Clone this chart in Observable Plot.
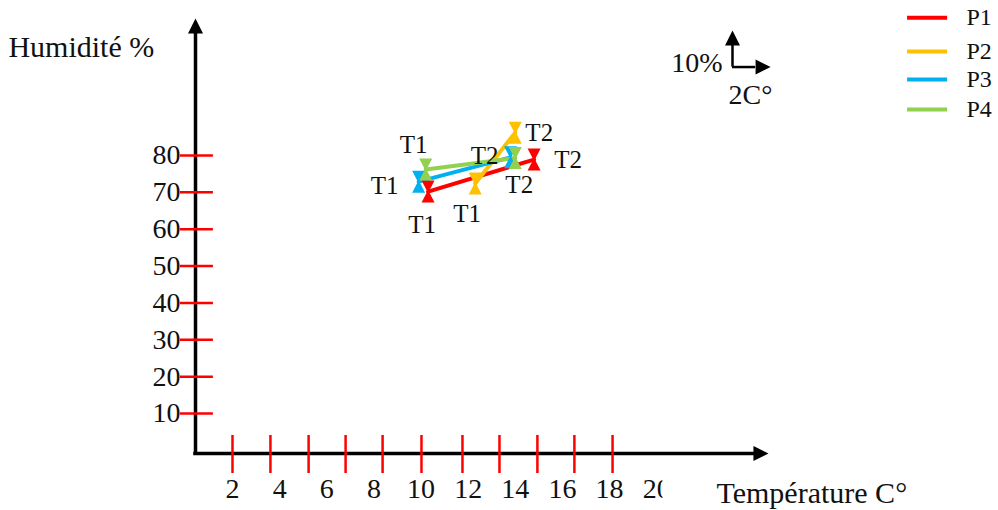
<!DOCTYPE html>
<html><head><meta charset="utf-8">
<script src="https://cdn.jsdelivr.net/npm/d3@7"></script>
<script src="https://cdn.jsdelivr.net/npm/@observablehq/plot@0.6"></script>
<style>body{margin:0;background:#fff}svg{display:block}</style>
</head><body><div id="chart"></div>
<script>
// ---- data ----
const series = ["P1", "P2", "P3", "P4"];
const seriesColors = ["#FF0000", "#FFC000", "#00B0F0", "#92D050"];
const stages = ["T1", "T2"];
const temperatureT1 = [10.3, 12.3, 9.9, 10.2];   // °C
const temperatureT2 = [14.8, 14.0, 13.8, 14.0];
const humidityT1 = [70.2, 72.4, 72.9, 76.2];     // %
const humidityT2 = [78.9, 86.2, 79.5, 79.3];
const xTickLabels = [2, 4, 6, 8, 10, 12, 14, 16, 18, 20];
const yTickLabels = [10, 20, 30, 40, 50, 60, 70, 80];
const xTickMarks = [2, 3.61, 5.23, 6.80, 8.37, 10.02, 11.76, 13.33, 14.94, 16.51, 18.13];
const xTitle = "Température C°";
const yTitle = "Humidité %";
const scaleNoteY = "10%";
const scaleNoteX = "2C°";

// ---- layout / style (not data) ----
const FONT = "Liberation Serif, Times New Roman, serif";
const origin = {x: 0.43, y: -0.85};
const xAxisEnd = 24.11, yAxisEnd = 113.1;
const labelOffsets = {
  "P1-T1": [-6, 33], "P1-T2": [34, 0],
  "P2-T1": [-8, 30], "P2-T2": [24, 0],
  "P3-T1": [-34, 4], "P3-T2": [-26, -1],
  "P4-T1": [-12, -25], "P4-T2": [4, 27]
};

const points = [];
series.forEach((s, i) => {
  points.push({series: s, stage: stages[0], t: temperatureT1[i], h: humidityT1[i]});
  points.push({series: s, stage: stages[1], t: temperatureT2[i], h: humidityT2[i]});
});

const hourglass = {
  draw(ctx) {
    const w = 6.5, h = 11;
    ctx.moveTo(-w, -h); ctx.lineTo(w, -h); ctx.lineTo(0.8, 0); ctx.lineTo(-0.8, 0); ctx.closePath();
    ctx.moveTo(-0.8, 0); ctx.lineTo(0.8, 0); ctx.lineTo(w, h); ctx.lineTo(-w, h); ctx.closePath();
  }
};
const arrowHead = {
  draw(ctx) { ctx.moveTo(0, -15); ctx.lineTo(7.5, 0); ctx.lineTo(-7.5, 0); ctx.closePath(); }
};

const legendY = [117.4, 108.2, 100.6, 92.5];
const legend = series.map((s, i) => ({series: s, y: legendY[i]}));

const labelMarks = points.map(p => {
  const [dx, dy] = labelOffsets[p.series + "-" + p.stage];
  return Plot.text([p], {x: "t", y: "h", text: "stage", dx, dy, fontSize: 25, fontFamily: FONT, fill: "#111"});
});

const chart = Plot.plot({
  width: 998, height: 510,
  margin: 0,
  x: {domain: [2, 18], range: [232, 609], axis: null},
  y: {domain: [10, 80], range: [413, 155], axis: null},
  color: {domain: series, range: seriesColors},
  style: {fontFamily: FONT, background: "#fff"},
  marks: [
    // axes
    Plot.ruleY([origin.y], {x1: origin.x, x2: xAxisEnd, stroke: "#000", strokeWidth: 3.5, strokeLinecap: "square"}),
    Plot.ruleX([origin.x], {y1: origin.y, y2: yAxisEnd, stroke: "#000", strokeWidth: 3.5, strokeLinecap: "square"}),
    Plot.dot([0], {x: origin.x, y: yAxisEnd, symbol: arrowHead, fill: "#000", stroke: "none"}),
    Plot.dot([0], {x: xAxisEnd, y: origin.y, symbol: arrowHead, rotate: 90, fill: "#000", stroke: "none"}),
    // red tick marks
    Plot.ruleX(xTickMarks, {y1: 4.03, y2: -6.28, stroke: "#FF0000", strokeWidth: 2.5}),
    Plot.ruleY(yTickLabels, {x1: -0.21, x2: 1.19, stroke: "#FF0000", strokeWidth: 2.5}),
    // tick labels
    Plot.text(xTickLabels, {x: d => d, y: origin.y, dy: 36, fontSize: 28, fontFamily: FONT, fill: "#111", className: "xlab"}),
    Plot.text(yTickLabels, {x: origin.x, y: d => d, dx: -15, textAnchor: "end", fontSize: 28, fontFamily: FONT, fill: "#111"}),
    // titles
    Plot.text([yTitle], {x: -7.51, y: 109.3, textAnchor: "start", fontSize: 30, fontFamily: FONT, fill: "#111"}),
    Plot.text([xTitle], {x: 22.54, y: -11.7, textAnchor: "start", fontSize: 30, fontFamily: FONT, fill: "#111"}),
    // scale icon
    Plot.ruleX([23.22], {y1: 104, y2: 109.85, stroke: "#000", strokeWidth: 2.5}),
    Plot.ruleY([104], {x1: 23.22, x2: 24.2, stroke: "#000", strokeWidth: 2.5}),
    Plot.dot([0], {x: 23.22, y: 109.85, symbol: arrowHead, fill: "#000", stroke: "none"}),
    Plot.dot([0], {x: 24.2, y: 104, symbol: arrowHead, rotate: 90, fill: "#000", stroke: "none"}),
    Plot.text([scaleNoteY], {x: 22.80, y: 105, textAnchor: "end", fontSize: 28, fontFamily: FONT, fill: "#111"}),
    Plot.text([scaleNoteX], {x: 23.05, y: 96.3, textAnchor: "start", fontSize: 28, fontFamily: FONT, fill: "#111"}),
    // data
    Plot.line(points, {x: "t", y: "h", z: "series", stroke: "series", strokeWidth: 4}),
    Plot.dot(points, {x: "t", y: "h", fill: "series", stroke: "none", symbol: hourglass}),
    ...labelMarks,
    // legend
    Plot.ruleY(legend, {y: "y", x1: 30.65, x2: 32.35, stroke: "series", strokeWidth: 4}),
    Plot.text(legend, {y: "y", x: 33.15, text: "series", textAnchor: "start", fontSize: 24, fontFamily: FONT, fill: "#111"})
  ]
});
document.getElementById("chart").appendChild(chart);

// the last x label is cut off by its text box in the original drawing:
// clip the whole label group (in its own user space) at the right edge of that box
const svg = d3.select(chart);
svg.append("defs").append("clipPath").attr("id", "xlabclip")
  .append("rect").attr("x", 0).attr("y", -100).attr("width", 662).attr("height", 800);
svg.selectAll("g.xlab").attr("clip-path", "url(#xlabclip)");
</script>
</body></html>
